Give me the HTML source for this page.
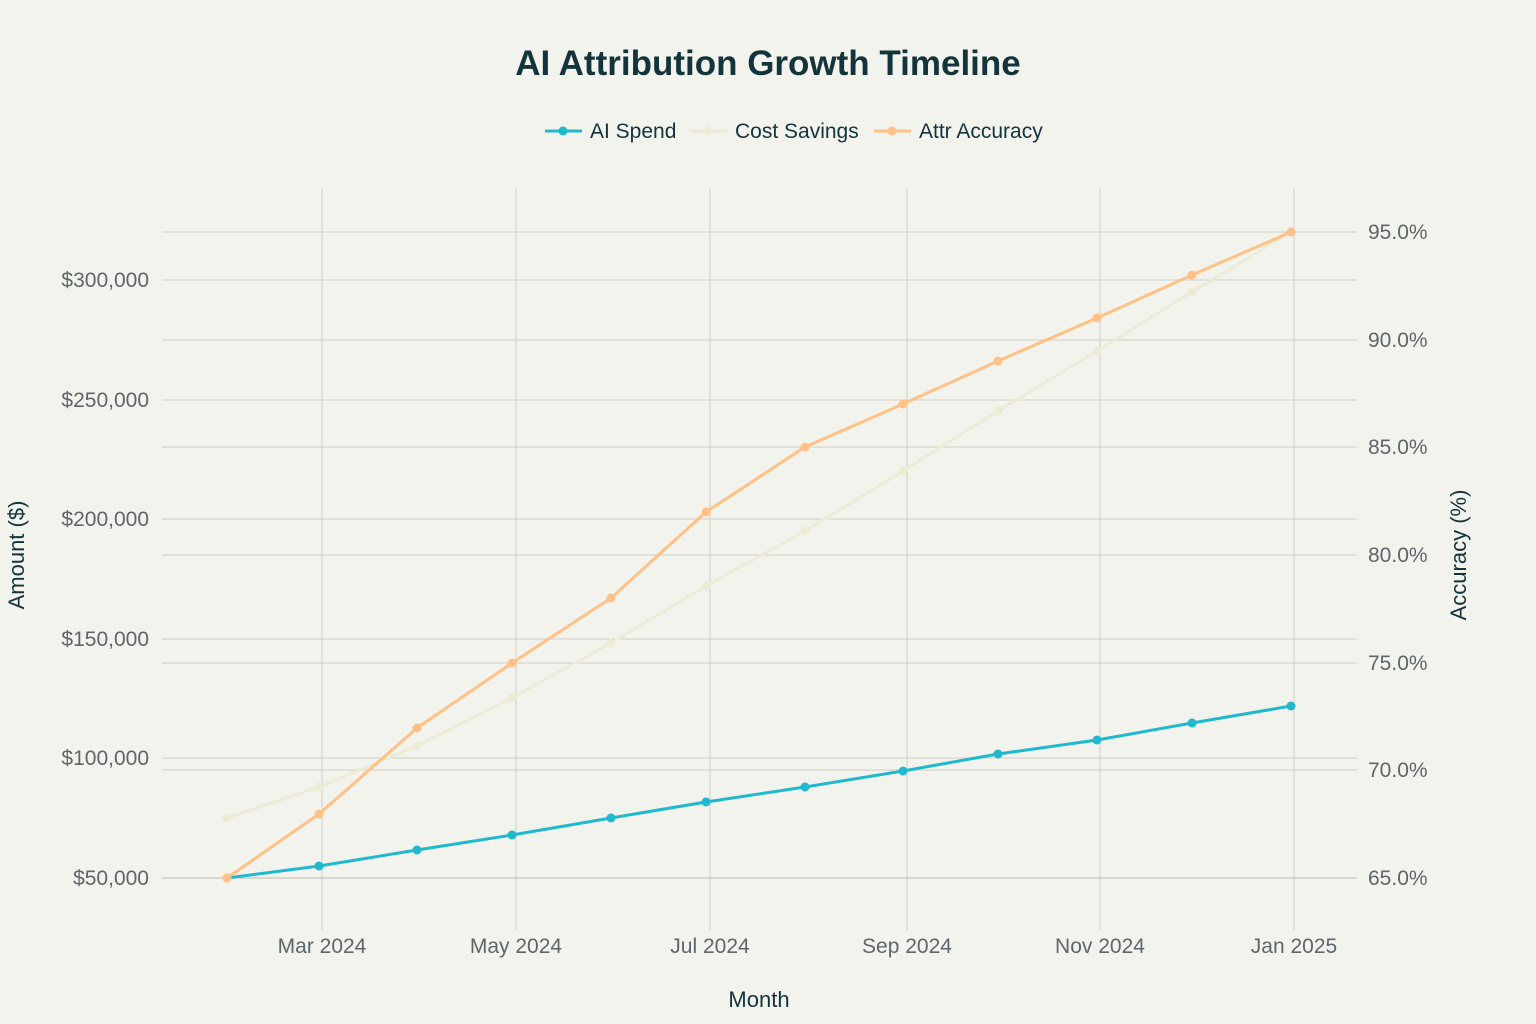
<!DOCTYPE html>
<html><head><meta charset="utf-8"><style>
html,body{margin:0;padding:0;background:#f3f3ee;}
svg{display:block;font-family:"Liberation Sans",sans-serif;}
</style></head><body>
<svg width="1536" height="1024" viewBox="0 0 1536 1024">
<rect width="1536" height="1024" fill="#f3f3ee"/>
<text x="768" y="75" text-anchor="middle" font-size="35" font-weight="bold" fill="#13343b">AI Attribution Growth Timeline</text>
<!-- legend -->
<g font-size="21" fill="#13343b">
<line x1="545" y1="131" x2="582" y2="131" stroke="#1fb8cd" stroke-width="3"/><circle cx="563" cy="131" r="4.5" fill="#1fb8cd"/>
<text x="590" y="138">AI Spend</text>
<line x1="690" y1="131" x2="727" y2="131" stroke="#ecebd5" stroke-width="3"/><circle cx="708" cy="131" r="4.5" fill="#ecebd5"/>
<text x="735" y="138">Cost Savings</text>
<line x1="874" y1="131" x2="911" y2="131" stroke="#ffc185" stroke-width="3"/><circle cx="892" cy="131" r="4.5" fill="#ffc185"/>
<text x="919" y="138">Attr Accuracy</text>
</g>
<!-- grid -->
<g stroke="#cfcfc7" stroke-width="1">
<line x1="162" x2="1357" y1="758" y2="758"/><line x1="162" x2="1357" y1="639" y2="639"/>
<line x1="162" x2="1357" y1="519" y2="519"/><line x1="162" x2="1357" y1="400" y2="400"/>
<line x1="162" x2="1357" y1="280" y2="280"/>
<line x1="162" x2="1357" y1="770" y2="770"/><line x1="162" x2="1357" y1="663" y2="663"/>
<line x1="162" x2="1357" y1="555" y2="555"/><line x1="162" x2="1357" y1="447" y2="447"/>
<line x1="162" x2="1357" y1="340" y2="340"/><line x1="162" x2="1357" y1="232" y2="232"/>
<line y1="188" y2="930" x1="322" x2="322"/><line y1="188" y2="930" x1="516" x2="516"/>
<line y1="188" y2="930" x1="710" x2="710"/><line y1="188" y2="930" x1="907" x2="907"/>
<line y1="188" y2="930" x1="1100" x2="1100"/><line y1="188" y2="930" x1="1294" x2="1294"/>
</g>
<line x1="162" x2="1357" y1="878" y2="878" stroke="#bdbdb5"/>
<!-- left ticks -->
<g font-size="21" fill="#5e6669" text-anchor="end">
<text x="149" y="885">$50,000</text><text x="149" y="765">$100,000</text>
<text x="149" y="646">$150,000</text><text x="149" y="526">$200,000</text>
<text x="149" y="407">$250,000</text><text x="149" y="287">$300,000</text>
</g>
<g font-size="21" fill="#5e6669">
<text x="1368" y="885">65.0%</text><text x="1368" y="777">70.0%</text>
<text x="1368" y="670">75.0%</text><text x="1368" y="562">80.0%</text>
<text x="1368" y="454">85.0%</text><text x="1368" y="347">90.0%</text>
<text x="1368" y="239">95.0%</text>
</g>
<g font-size="21" fill="#5e6669" text-anchor="middle">
<text x="322" y="953">Mar 2024</text><text x="516" y="953">May 2024</text>
<text x="710" y="953">Jul 2024</text><text x="907" y="953">Sep 2024</text>
<text x="1100" y="953">Nov 2024</text><text x="1294" y="953">Jan 2025</text>
</g>
<text x="759" y="1007" text-anchor="middle" font-size="22" fill="#13343b">Month</text>
<text transform="translate(24,555) rotate(-90)" text-anchor="middle" font-size="22" fill="#13343b">Amount ($)</text>
<text transform="translate(1466,555) rotate(-90)" text-anchor="middle" font-size="22" fill="#13343b">Accuracy (%)</text>
<!-- series -->
<g fill="none" stroke-width="3" stroke-linejoin="round">
<polyline stroke="#ecebd5" points="227,818 319,787 417,746 512,698 611,643 706,586 805,531 903,471 998,411 1097,351 1192,292 1291,232"/>
<polyline stroke="#ffc185" points="227,878 319,814 417,728 512,663 611,598 706,512 805,447 903,404 998,361 1097,318 1192,275 1291,232"/>
<polyline stroke="#1fb8cd" points="227,878 319,866 417,850 512,835 611,818 706,802 805,787 903,771 998,754 1097,740 1192,723 1291,706"/>
</g>
<g fill="#ecebd5">
<circle cx="227" cy="818" r="4.5"/><circle cx="319" cy="787" r="4.5"/><circle cx="417" cy="746" r="4.5"/><circle cx="512" cy="698" r="4.5"/><circle cx="611" cy="643" r="4.5"/><circle cx="706" cy="586" r="4.5"/><circle cx="805" cy="531" r="4.5"/><circle cx="903" cy="471" r="4.5"/><circle cx="998" cy="411" r="4.5"/><circle cx="1097" cy="351" r="4.5"/><circle cx="1192" cy="292" r="4.5"/><circle cx="1291" cy="232" r="4.5"/>
</g>
<g fill="#ffc185">
<circle cx="227" cy="878" r="4.5"/><circle cx="319" cy="814" r="4.5"/><circle cx="417" cy="728" r="4.5"/><circle cx="512" cy="663" r="4.5"/><circle cx="611" cy="598" r="4.5"/><circle cx="706" cy="512" r="4.5"/><circle cx="805" cy="447" r="4.5"/><circle cx="903" cy="404" r="4.5"/><circle cx="998" cy="361" r="4.5"/><circle cx="1097" cy="318" r="4.5"/><circle cx="1192" cy="275" r="4.5"/><circle cx="1291" cy="232" r="4.5"/>
</g>
<g fill="#1fb8cd">
<circle cx="319" cy="866" r="4.5"/><circle cx="417" cy="850" r="4.5"/><circle cx="512" cy="835" r="4.5"/><circle cx="611" cy="818" r="4.5"/><circle cx="706" cy="802" r="4.5"/><circle cx="805" cy="787" r="4.5"/><circle cx="903" cy="771" r="4.5"/><circle cx="998" cy="754" r="4.5"/><circle cx="1097" cy="740" r="4.5"/><circle cx="1192" cy="723" r="4.5"/><circle cx="1291" cy="706" r="4.5"/>
</g>
<circle cx="227" cy="878" r="4.5" fill="#ffc185"/>
</svg>
</body></html>
